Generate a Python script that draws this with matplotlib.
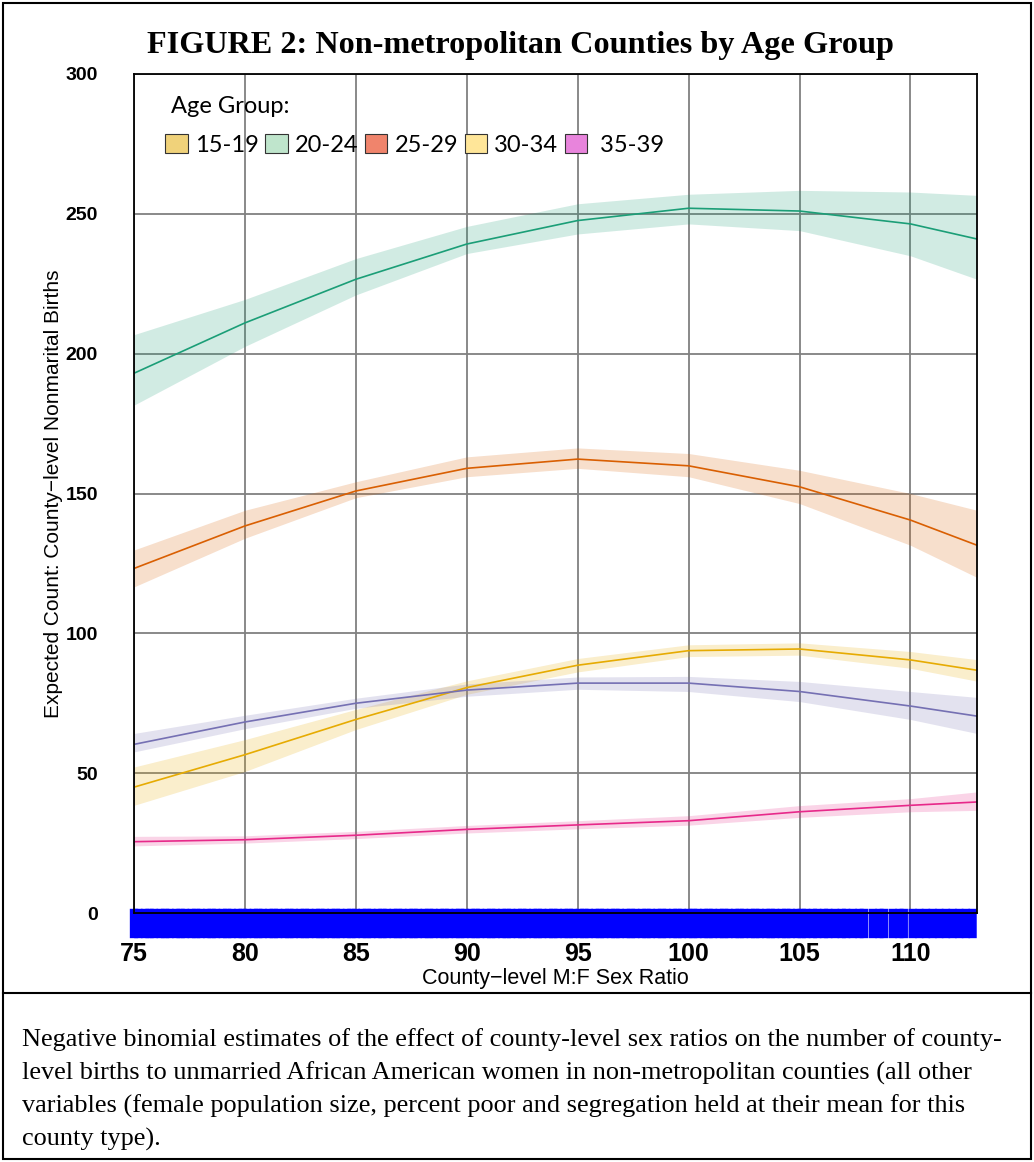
import matplotlib
matplotlib.use('Agg')
import matplotlib.pyplot as plt
from matplotlib.patches import Patch, Rectangle
from matplotlib.lines import Line2D
import numpy as np

ratio = [75, 80, 85, 90, 95, 100, 105, 110, 113]

# expected counts (line, lower, upper) for each curve
green_fit = [193, 211, 226.6, 239.2, 247.6, 252, 251, 246.4, 241]
green_lo = [181.6, 202.6, 221, 235.8, 242.8, 246.4, 244, 235, 226.6]
green_hi = [206.8, 219.4, 234, 245.5, 253.6, 257, 258.4, 257.8, 256.6]

orange_fit = [123.2, 138.4, 150.9, 159, 162.3, 159.9, 152.4, 140.5, 131.5]
orange_lo = [116.6, 134, 148.5, 156, 159, 156, 146.4, 131.5, 120]
orange_hi = [129.8, 144, 154.2, 163.1, 166.3, 164.3, 158.3, 150, 144]

gold_fit = [45, 56.6, 69.2, 80.6, 88.6, 93.8, 94.4, 90.5, 86.8]
gold_lo = [38.5, 50.6, 65.6, 78.2, 86.2, 91.7, 92.2, 87.5, 82.9]
gold_hi = [52.2, 62, 72.8, 83, 91, 95.9, 96.6, 93.5, 90.6]

purple_fit = [60.3, 68.3, 75, 79.7, 82.2, 82.2, 79.2, 74, 70.4]
purple_lo = [57.6, 65.9, 73.2, 77.5, 80, 79.2, 75.6, 69.2, 64.2]
purple_hi = [64.2, 70.7, 76.8, 81.9, 84.4, 84.6, 82.8, 79.2, 77.1]

pink_fit = [25.5, 26.2, 27.8, 29.9, 31.5, 33.0, 36.2, 38.5, 39.7]
pink_lo = [24, 25, 26.6, 28.6, 30.1, 31.4, 34.2, 36.2, 36.7]
pink_hi = [27.4, 27.6, 29.2, 31.3, 33, 34.8, 38.4, 40.9, 43.3]

curves = [
    (green_fit, green_lo, green_hi, '#1B9E77'),
    (orange_fit, orange_lo, orange_hi, '#D95F02'),
    (gold_fit, gold_lo, gold_hi, '#E6AB02'),
    (purple_fit, purple_lo, purple_hi, '#7570B3'),
    (pink_fit, pink_lo, pink_hi, '#E7298A'),
]

# observed county sex ratios (rug)
rug_x = [75.0, 75.2, 75.5, 75.7, 75.9, 76.2, 76.4, 76.6, 76.9, 77.1, 77.3, 77.6,
         77.8, 78.0, 78.3, 78.5, 78.7, 79.0, 79.2, 79.4, 79.7, 79.9, 80.1, 80.4,
         80.6, 80.8, 81.1, 81.3, 81.5, 81.8, 82.0, 82.2, 82.5, 82.7, 82.9, 83.2,
         83.4, 83.6, 83.9, 84.1, 84.3, 84.6, 84.8, 85.0, 85.3, 85.5, 85.7, 86.0,
         86.2, 86.4, 86.7, 86.9, 87.1, 87.4, 87.6, 87.8, 88.1, 88.3, 88.5, 88.8,
         89.0, 89.2, 89.5, 89.7, 89.9, 90.2, 90.4, 90.6, 90.9, 91.1, 91.3, 91.6,
         91.8, 92.0, 92.3, 92.5, 92.7, 93.0, 93.2, 93.4, 93.7, 93.9, 94.1, 94.4,
         94.6, 94.8, 95.1, 95.3, 95.5, 95.8, 96.0, 96.2, 96.5, 96.7, 96.9, 97.2,
         97.4, 97.6, 97.9, 98.1, 98.3, 98.6, 98.8, 99.0, 99.3, 99.5, 99.7, 100.0,
         100.2, 100.4, 100.7, 100.9, 101.1, 101.4, 101.6, 101.8, 102.1, 102.3,
         102.5, 102.8, 103.0, 103.2, 103.5, 103.7, 103.9, 104.2, 104.4, 104.6,
         104.9, 105.1, 105.3, 105.6, 105.8, 106.1, 106.3, 106.6, 106.9, 107.1,
         107.4, 107.7, 107.9, 108.3, 108.6, 108.8, 109.2, 109.5, 109.7, 110.1,
         110.4, 110.7, 111.0, 111.3, 111.6, 111.9, 112.2, 112.5, 112.8]

legend_labels = ['15-19', '20-24', '25-29', '30-34', ' 35-39']
legend_colors = ['#F0D27A', '#BFE5CC', '#F0846C', '#FFE699', '#E884DC']

xticks = [75, 80, 85, 90, 95, 100, 105, 110]
yticks = [0, 50, 100, 150, 200, 250, 300]

fig = plt.figure(figsize=(10.34, 11.62), dpi=100)
ax = fig.add_axes([134/1034, 1 - 913/1162, 843/1034, 839/1162])

for fit, lo, hi, col in curves:
    ax.fill_between(ratio, lo, hi, color=col, alpha=0.2, linewidth=0)
    ax.plot(ratio, fit, color=col, linewidth=1.2)

ax.vlines(rug_x, -9, 1.5, colors='#0000FF', linewidth=6, clip_on=False, zorder=1,
          snap=False)

ax.set_xlim(75, 113)
ax.set_ylim(0, 300)
ax.set_xticks(xticks)
ax.set_yticks(yticks)
ax.grid(True, color='#808080', linewidth=1.3)
ax.set_axisbelow(True)
ax.tick_params(axis='x', length=0, labelsize=18, pad=21)
ax.tick_params(axis='y', length=0, labelsize=14, pad=26)
for sp in ax.spines.values():
    sp.set_linewidth(1.3)
    sp.set_color('black')
    sp.set_zorder(5)

ax.set_xlabel('County\u2212level M:F Sex Ratio', fontsize=15.5, labelpad=1,
              family='Liberation Sans')
ax.set_ylabel('Expected Count: County\u2212level Nonmarital Births', fontsize=15,
              labelpad=2, family='Liberation Sans')
for lab in ax.get_xticklabels() + ax.get_yticklabels():
    lab.set_family('Liberation Sans')
    lab.set_fontweight('bold')

handles = [Patch(facecolor=c, edgecolor='#333333', linewidth=0.8) for c in legend_colors]
leg = ax.legend(handles, legend_labels, ncol=5, loc='upper left',
                bbox_to_anchor=(0.026, 0.985), frameon=False,
                title=' Age Group:', alignment='left',
                prop={'family': 'Lato', 'size': 17},
                handlelength=0.95, handleheight=0.85, handletextpad=0.3,
                columnspacing=0.28, labelspacing=0.72, borderaxespad=0)
leg.get_title().set_fontfamily('Lato')
leg.get_title().set_fontsize(17)

fig.text(0.503, 1 - 45/1162, 'FIGURE 2: Non-metropolitan Counties by Age Group',
         ha='center', va='center', fontsize=23.2, fontweight='bold',
         family='Liberation Serif')

caption = [
    'Negative binomial estimates of the effect of county-level sex ratios on the number of county-',
    'level births to unmarried African American women in non-metropolitan counties (all other',
    'variables (female population size, percent poor and segregation held at their mean for this',
    'county type).',
]
for i, line in enumerate(caption):
    fig.text(22/1034, 1 - (1040 + 33*i)/1162, line, ha='left', va='center',
             fontsize=18.9, family='Liberation Serif')

# outer frame and separator
fig.add_artist(Rectangle((3/1034, 3/1162), 1028/1034, 1156/1162, transform=fig.transFigure,
                         fill=False, edgecolor='black', linewidth=1.5))
fig.add_artist(Line2D([3/1034, 1031/1034], [1 - 993/1162, 1 - 993/1162],
                      transform=fig.transFigure, color='black', linewidth=1.5))

fig.savefig('out.png', dpi=100)
